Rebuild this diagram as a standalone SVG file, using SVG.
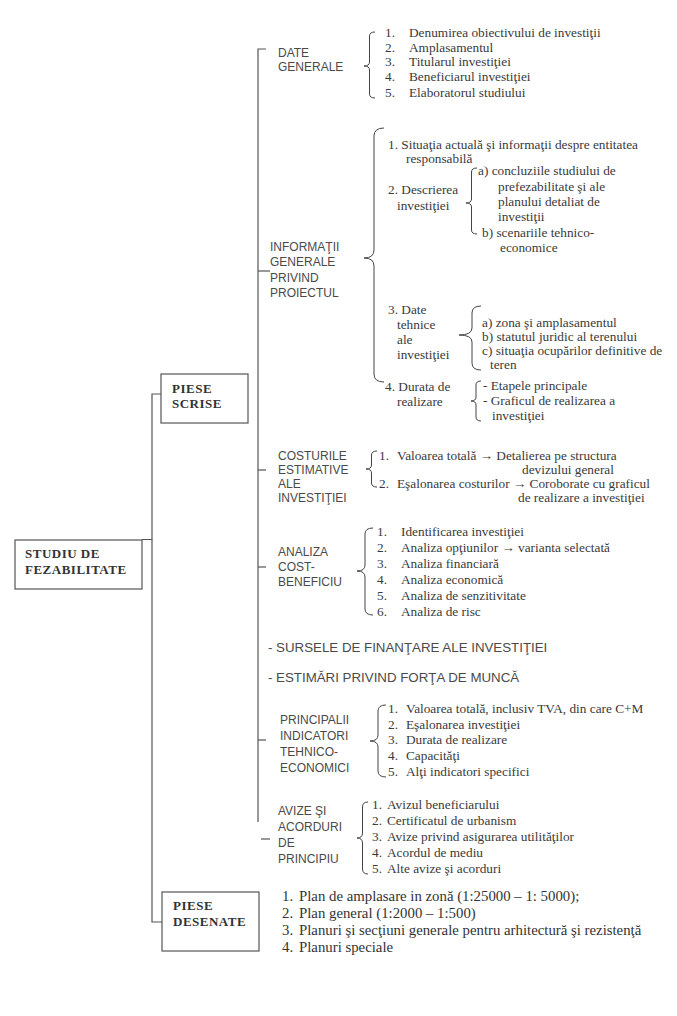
<svg xmlns="http://www.w3.org/2000/svg" width="677" height="1016" viewBox="0 0 677 1016">
<style>
.bg{fill:#ffffff}
.box{fill:#ffffff;stroke:#555;stroke-width:1.2}
.ln{fill:none;stroke:#555;stroke-width:1.2}
.br{fill:none;stroke:#444;stroke-width:1}
.t{font-family:"Liberation Serif","Times New Roman",serif;font-size:13.3px;fill:#3a3a3a}
.tb{font-family:"Liberation Serif","Times New Roman",serif;font-size:14.8px;fill:#333}
.h{font-family:"Liberation Serif","Times New Roman",serif;font-size:13px;font-weight:bold;fill:#333;letter-spacing:0.5px}
.s{font-family:"Liberation Sans",Arial,sans-serif;font-size:12px;fill:#4a4a4a}
.s2{font-family:"Liberation Sans",Arial,sans-serif;font-size:13.3px;fill:#4a4a4a}
</style>
<rect class="bg" x="0" y="0" width="677" height="1016"/>

<g id="connectors">
<path class="ln" d="M142,539.5 H152 V394 H161"/>
<path class="ln" d="M152,539.5 V922 H162"/>
<path class="ln" d="M266,49 H258 V822"/>
<path class="ln" d="M258,271 H270"/>
<path class="ln" d="M258,470 H266"/>
<path class="ln" d="M258,567 H266"/>
<path class="ln" d="M258,740 H266"/>
<path class="ln" d="M261,839 H270"/>
</g>

<g id="studiu">
<rect class="box" x="15" y="540" width="127" height="49"/>
<text class="h" x="25" y="558">STUDIU DE</text>
<text class="h" x="25" y="574">FEZABILITATE</text>
</g>

<g id="piese-scrise">
<rect class="box" x="161" y="374" width="87" height="49"/>
<text class="h" x="172" y="393">PIESE</text>
<text class="h" x="172" y="408">SCRISE</text>
</g>

<g id="piese-desenate">
<rect class="box" x="162" y="892" width="97" height="59"/>
<text class="h" x="173" y="910">PIESE</text>
<text class="h" x="173" y="926">DESENATE</text>
<text class="tb" x="282" y="901">1.</text><text class="tb" x="299" y="901">Plan de amplasare in zonă (1:25000 – 1: 5000);</text>
<text class="tb" x="282" y="918">2.</text><text class="tb" x="299" y="918">Plan general (1:2000 – 1:500)</text>
<text class="tb" x="282" y="935">3.</text><text class="tb" x="299" y="935">Planuri şi secţiuni generale pentru arhitectură şi rezistenţă</text>
<text class="tb" x="282" y="952">4.</text><text class="tb" x="299" y="952">Planuri speciale</text>
</g>

<g id="date-generale">
<text class="s" x="278" y="57">DATE</text>
<text class="s" x="278" y="71">GENERALE</text>
<path class="br" d="M375,32 Q369.5,32 369.5,36 L369.5,62 Q369.5,66 364,66 Q369.5,66 369.5,70 L369.5,94 Q369.5,98 375,98"/>
<text class="t" x="385" y="37">1.</text><text class="t" x="409" y="37">Denumirea obiectivului de investiţii</text>
<text class="t" x="385" y="52">2.</text><text class="t" x="409" y="52">Amplasamentul</text>
<text class="t" x="385" y="66">3.</text><text class="t" x="409" y="66">Titularul investiţiei</text>
<text class="t" x="385" y="81">4.</text><text class="t" x="409" y="81">Beneficiarul investiţiei</text>
<text class="t" x="385" y="97">5.</text><text class="t" x="409" y="97">Elaboratorul studiului</text>
</g>

<g id="informatii-generale">
<text class="s" x="270" y="251">INFORMAŢII</text>
<text class="s" x="270" y="266">GENERALE</text>
<text class="s" x="270" y="282">PRIVIND</text>
<text class="s" x="270" y="297">PROIECTUL</text>
<path class="br" d="M384,128 Q374,128 374,136 L374,250 Q374,258 364,258 Q374,258 374,266 L374,374 Q374,382 384,382"/>
<text class="t" x="388" y="149">1. Situaţia actuală şi informaţii despre entitatea</text>
<text class="t" x="406" y="163">responsabilă</text>
<text class="t" x="388" y="194">2. Descrierea</text>
<text class="t" x="397" y="210">investiţiei</text>
<path class="br" d="M477,168 Q471.5,168 471.5,172 L471.5,199 Q471.5,203 466,203 Q471.5,203 471.5,207 L471.5,230 Q471.5,234 477,234"/>
<text class="t" x="478" y="175">a) concluziile studiului de</text>
<text class="t" x="498" y="191">prefezabilitate şi ale</text>
<text class="t" x="498" y="206">planului detaliat de</text>
<text class="t" x="498" y="221">investiţii</text>
<text class="t" x="482" y="237">b) scenariile tehnico-</text>
<text class="t" x="500" y="252">economice</text>
<text class="t" x="388" y="314">3. Date</text>
<text class="t" x="397" y="329">tehnice</text>
<text class="t" x="397" y="344">ale</text>
<text class="t" x="397" y="359">investiţiei</text>
<path class="br" d="M481,306 Q472,306 472,313 L472,328 Q472,335 459,335 Q472,335 472,342 L472,363 Q472,370 481,370"/>
<text class="t" x="482" y="327">a) zona şi amplasamentul</text>
<text class="t" x="482" y="341">b) statutul juridic al terenului</text>
<text class="t" x="482" y="355">c) situaţia ocupărilor definitive de</text>
<text class="t" x="490" y="369">teren</text>
<text class="t" x="385" y="391">4. Durata de</text>
<text class="t" x="397" y="406">realizare</text>
<path class="br" d="M481,381 Q476,381 476,385 L476,397 Q476,401 471,401 Q476,401 476,405 L476,417 Q476,421 481,421"/>
<text class="t" x="483" y="390">- Etapele principale</text>
<text class="t" x="483" y="405">- Graficul de realizarea a</text>
<text class="t" x="492" y="420">investiţiei</text>
</g>

<g id="costurile">
<text class="s" x="278" y="460">COSTURILE</text>
<text class="s" x="278" y="474">ESTIMATIVE</text>
<text class="s" x="278" y="488">ALE</text>
<text class="s" x="278" y="502">INVESTIŢIEI</text>
<path class="br" d="M377,451 Q371.5,451 371.5,455 L371.5,465 Q371.5,469 366,469 Q371.5,469 371.5,473 L371.5,483 Q371.5,487 377,487"/>
<text class="t" x="379" y="460">1.</text><text class="t" x="397" y="460">Valoarea totală → Detalierea pe structura</text>
<text class="t" x="522" y="474">devizului general</text>
<text class="t" x="379" y="488">2.</text><text class="t" x="397" y="488">Eşalonarea costurilor → Coroborate cu graficul</text>
<text class="t" x="518" y="502">de realizare a investiţiei</text>
</g>

<g id="analiza">
<text class="s" x="278" y="556">ANALIZA</text>
<text class="s" x="278" y="571">COST-</text>
<text class="s" x="278" y="586">BENEFICIU</text>
<path class="br" d="M373,528 Q365,528 365,534 L365,565 Q365,571 357,571 Q365,571 365,577 L365,609 Q365,615 373,615"/>
<text class="t" x="377" y="536">1.</text><text class="t" x="401" y="536">Identificarea investiţiei</text>
<text class="t" x="377" y="552">2.</text><text class="t" x="401" y="552">Analiza opţiunilor → varianta selectată</text>
<text class="t" x="377" y="568">3.</text><text class="t" x="401" y="568">Analiza financiară</text>
<text class="t" x="377" y="584">4.</text><text class="t" x="401" y="584">Analiza economică</text>
<text class="t" x="377" y="600">5.</text><text class="t" x="401" y="600">Analiza de senzitivitate</text>
<text class="t" x="377" y="616">6.</text><text class="t" x="401" y="616">Analiza de risc</text>
</g>

<g id="surse">
<text class="s2" x="268" y="652">- SURSELE DE FINANŢARE ALE INVESTIŢIEI</text>
</g>

<g id="estimari">
<text class="s2" x="268" y="682">- ESTIMĂRI PRIVIND FORŢA DE MUNCĂ</text>
</g>

<g id="indicatori">
<text class="s" x="280" y="724">PRINCIPALII</text>
<text class="s" x="280" y="740">INDICATORI</text>
<text class="s" x="280" y="756">TEHNICO-</text>
<text class="s" x="280" y="772">ECONOMICI</text>
<path class="br" d="M386,705 Q378,705 378,711 L378,735 Q378,741 370,741 Q378,741 378,747 L378,771 Q378,777 386,777"/>
<text class="t" x="388" y="713">1.</text><text class="t" x="406" y="713">Valoarea totală, inclusiv TVA, din care C+M</text>
<text class="t" x="388" y="729">2.</text><text class="t" x="406" y="729">Eşalonarea investiţiei</text>
<text class="t" x="388" y="744">3.</text><text class="t" x="406" y="744">Durata de realizare</text>
<text class="t" x="388" y="760">4.</text><text class="t" x="406" y="760">Capacităţi</text>
<text class="t" x="388" y="776">5.</text><text class="t" x="406" y="776">Alţi indicatori specifici</text>
</g>

<g id="avize">
<text class="s" x="278" y="815">AVIZE ŞI</text>
<text class="s" x="278" y="831">ACORDURI</text>
<text class="s" x="278" y="847">DE</text>
<text class="s" x="278" y="863">PRINCIPIU</text>
<path class="br" d="M368,802 Q362.5,802 362.5,807 L362.5,833 Q362.5,838 357,838 Q362.5,838 362.5,843 L362.5,869 Q362.5,874 368,874"/>
<text class="t" x="372" y="809">1.</text><text class="t" x="387" y="809">Avizul beneficiarului</text>
<text class="t" x="372" y="825">2.</text><text class="t" x="387" y="825">Certificatul de urbanism</text>
<text class="t" x="372" y="841">3.</text><text class="t" x="387" y="841">Avize privind asigurarea utilităţilor</text>
<text class="t" x="372" y="857">4.</text><text class="t" x="387" y="857">Acordul de mediu</text>
<text class="t" x="372" y="873">5.</text><text class="t" x="387" y="873">Alte avize şi acorduri</text>
</g>
</svg>
